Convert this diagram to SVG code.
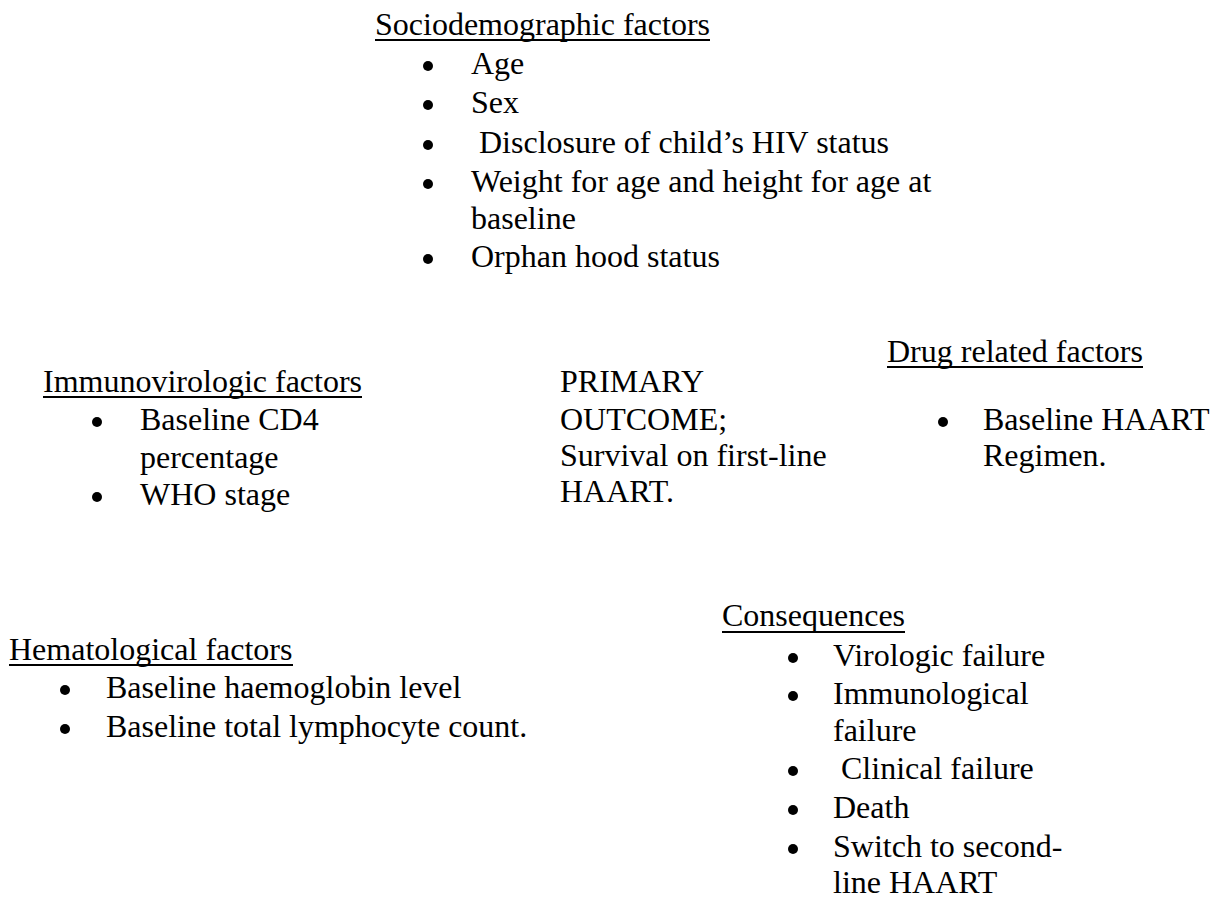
<svg xmlns="http://www.w3.org/2000/svg" width="1213" height="901" viewBox="0 0 1213 901" font-family="'Liberation Serif', Tinos, 'Times New Roman', Times, 'DejaVu Serif', serif" font-size="32">
<style>
text{font-family:'Liberation Serif',Tinos,'Times New Roman',Times,'DejaVu Serif',serif;font-size:32px;fill:#000}
.ul{stroke:#000;stroke-width:2}
.b{fill:#000}
</style>
<rect width="1213" height="901" fill="#fff"/>
<g id="connectors"></g>
<g id="sociodemographic">
<text x="375" y="35">Sociodemographic factors</text>
<line class="ul" x1="375" y1="40" x2="710" y2="40"/>
<circle class="b" cx="428" cy="66" r="5"/><text x="471" y="74">Age</text>
<circle class="b" cx="428" cy="105" r="5"/><text x="471" y="113">Sex</text>
<circle class="b" cx="428" cy="145" r="5"/><text x="471" y="153" xml:space="preserve"> Disclosure of child’s HIV status</text>
<circle class="b" cx="428" cy="184" r="5"/><text x="471" y="192">Weight for age and height for age at</text>
<text x="471" y="229">baseline</text>
<circle class="b" cx="428" cy="259" r="5"/><text x="471" y="267">Orphan hood status</text>
</g>
<g id="immunovirologic">
<text x="43" y="392">Immunovirologic factors</text>
<line class="ul" x1="43" y1="397" x2="362" y2="397"/>
<circle class="b" cx="97" cy="422" r="5"/><text x="140" y="430">Baseline CD4</text>
<text x="140" y="468">percentage</text>
<circle class="b" cx="97" cy="497" r="5"/><text x="140" y="505">WHO stage</text>
</g>
<g id="primary-outcome">
<text x="560" y="392">PRIMARY</text>
<text x="560" y="430">OUTCOME;</text>
<text x="560" y="466">Survival on first-line</text>
<text x="560" y="502">HAART.</text>
</g>
<g id="drug-related">
<text x="887" y="362">Drug related factors</text>
<line class="ul" x1="887" y1="367" x2="1143" y2="367"/>
<circle class="b" cx="943" cy="422" r="5"/><text x="983" y="430">Baseline HAART</text>
<text x="983" y="466">Regimen.</text>
</g>
<g id="hematological">
<text x="9" y="660">Hematological factors</text>
<line class="ul" x1="9" y1="665" x2="293" y2="665"/>
<circle class="b" cx="65" cy="690" r="5"/><text x="106" y="698">Baseline haemoglobin level</text>
<circle class="b" cx="65" cy="729" r="5"/><text x="106" y="737">Baseline total lymphocyte count.</text>
</g>
<g id="consequences">
<text x="722" y="626">Consequences</text>
<line class="ul" x1="722" y1="632" x2="905" y2="632"/>
<circle class="b" cx="793" cy="658" r="5"/><text x="833" y="666">Virologic failure</text>
<circle class="b" cx="793" cy="696" r="5"/><text x="833" y="704">Immunological</text>
<text x="833" y="741">failure</text>
<circle class="b" cx="793" cy="771" r="5"/><text x="833" y="779" xml:space="preserve"> Clinical failure</text>
<circle class="b" cx="793" cy="810" r="5"/><text x="833" y="818">Death</text>
<circle class="b" cx="793" cy="849" r="5"/><text x="833" y="857">Switch to second-</text>
<text x="833" y="893">line HAART</text>
</g>
</svg>
